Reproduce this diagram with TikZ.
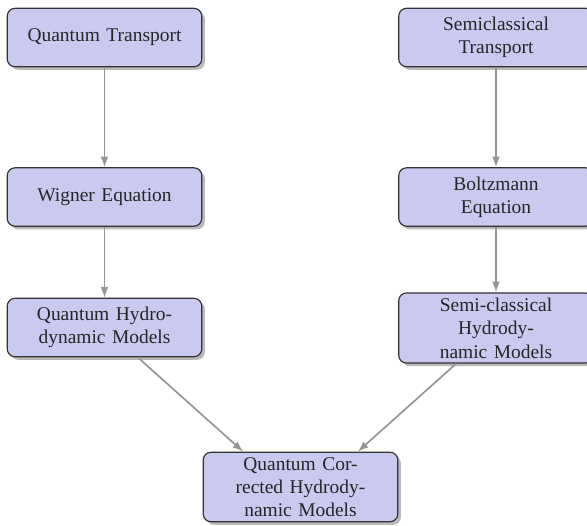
\documentclass[tikz,border=0pt]{standalone}
\usepackage{fontspec}
\setmainfont{Liberation Serif}
\usetikzlibrary{shadows,arrows.meta}
\definecolor{boxfill}{RGB}{202,202,240}
\begin{document}
\begin{tikzpicture}[x=0.514pt, y=-0.514pt,
  blockbox/.style={rectangle, draw=black!80, line width=0.6pt, fill=boxfill,
    rounded corners=4pt, minimum width=100pt, minimum height=30pt,
    text width=92pt, align=center, inner xsep=4pt, inner ysep=2.5pt,
    drop shadow={shadow xshift=1.6pt, shadow yshift=-1.6pt, opacity=0.55},
    font=\normalsize, text=black!85},
  conn/.style={draw=black!42, line width=0.85pt, -{Latex[length=5.5pt,width=4pt]}}]
\useasboundingbox (0,0) rectangle (587,526);
\node[blockbox] (QT) at (104.5,37.5) {Quantum Transport};
\node[blockbox] (ST) at (496,37.5) {Semiclassical\\Transport};
\node[blockbox] (WE) at (104.5,197) {Wigner Equation};
\node[blockbox] (BE) at (496,197) {Boltzmann\\Equation};
\node[blockbox] (QH) at (104.5,327.5) {Quantum Hydro-\\dynamic Models};
\node[blockbox] (SC) at (496,328) {Semi-classical\\Hydrody-\\namic Models};
\node[blockbox] (QC) at (300.5,487) {Quantum Cor-\\rected Hydrody-\\namic Models};
\coordinate (aim) at (300.5,503);
\coordinate (qhend) at (intersection of QH--aim and QC.north west--QC.north east);
\coordinate (scend) at (intersection of SC--aim and QC.north west--QC.north east);
\draw[conn] (QT) -- (WE);
\draw[conn] (WE) -- (QH);
\draw[conn] (ST) -- (BE);
\draw[conn] (BE) -- (SC);
\draw[conn] (QH) -- (qhend);
\draw[conn] (SC) -- (scend);
\end{tikzpicture}
\end{document}
